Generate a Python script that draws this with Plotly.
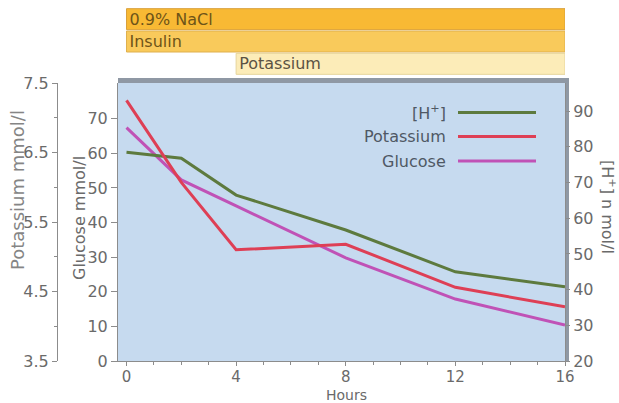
import plotly.graph_objects as go

# ---- data -------------------------------------------------------------
hours = [0, 2, 4, 8, 12, 16]
h_ion = [78.5, 76.8, 66.5, 56.7, 45.0, 40.8]          # [H+] n mol/l
potassium = [7.25, 6.07, 5.10, 5.18, 4.56, 4.28]      # mmol/l
glucose = [67.4, 52.3, 44.8, 29.8, 17.9, 10.4]        # mmol/l

infusions = ["0.9% NaCl", "Insulin", "Potassium"]
infusion_start = [0, 0, 4]
infusion_end = [16, 16, 16]

x_ticks = [0, 4, 8, 12, 16]
glucose_ticks = [0, 10, 20, 30, 40, 50, 60, 70]
potassium_ticks = [3.5, 4.5, 5.5, 6.5, 7.5]
potassium_minor = [4.0, 5.0, 6.0, 7.0]
h_ticks = [20, 30, 40, 50, 60, 70, 80, 90]

# ---- styling ----------------------------------------------------------
W, H = 619, 403
FONT = "DejaVu Sans"
GREEN, RED, MAGENTA = "#5d7a3e", "#de3f55", "#c052b6"
AXIS = "#8c8c8c"
TICKTXT = "#6a6a6a"
PANEL = "#c6daef"


def px(x):
    return x / W


def py(y):
    return 1 - y / H


fig = go.Figure()

# infusion bars across the top
fig.add_trace(go.Bar(
    y=infusions,
    base=infusion_start,
    x=[e - s for s, e in zip(infusion_start, infusion_end)],
    orientation="h",
    xaxis="x", yaxis="y4",
    marker=dict(color=["#f8b934", "#f9ca5b", "#fcecb8"],
                line=dict(color=["#d9a03a", "#dfb04e", "#e6d59c"], width=1)),
    text=infusions,
    textposition="inside",
    insidetextanchor="start",
    textangle=0,
    constraintext="none",
    textfont=dict(family=FONT, size=16, color=["#6e5418", "#6e5418", "#5a5244"]),
    hoverinfo="skip",
    showlegend=False,
))

# measured series
fig.add_trace(go.Scatter(x=hours, y=glucose, mode="lines", yaxis="y",
                         line=dict(color=MAGENTA, width=3), showlegend=False))
fig.add_trace(go.Scatter(x=hours, y=h_ion, mode="lines", yaxis="y2",
                         line=dict(color=GREEN, width=3), showlegend=False))
fig.add_trace(go.Scatter(x=hours, y=potassium, mode="lines", yaxis="y3",
                         line=dict(color=RED, width=3), showlegend=False))

x_dom = [px(118), px(565)]
y_dom = [py(361), py(83)]
tickfont = dict(family=FONT, size=16, color=TICKTXT)

fig.update_layout(
    width=W, height=H,
    margin=dict(l=0, r=0, t=0, b=0, pad=0, autoexpand=False),
    paper_bgcolor="white",
    plot_bgcolor="rgba(0,0,0,0)",
    font=dict(family=FONT),
    bargap=0.06,
    xaxis=dict(domain=x_dom, range=[-0.31, 16.0], anchor="y", automargin=False,
               tickvals=x_ticks, ticks="outside", ticklen=4, tickcolor=AXIS,
               ticklabelstandoff=-2,
               minor=dict(dtick=1, tick0=0, ticks="outside", ticklen=3, tickcolor=AXIS),
               showline=True, linecolor=AXIS, linewidth=1, showgrid=False,
               zeroline=False,
               tickfont=dict(family=FONT, size=15, color=TICKTXT)),
    yaxis=dict(domain=y_dom, range=[0, 80.3], anchor="x", automargin=False,
               tickvals=glucose_ticks, ticks="outside", ticklen=6, tickcolor=AXIS,
               showline=True, linecolor=AXIS, showgrid=False, zeroline=False,
               tickfont=tickfont),
    yaxis2=dict(overlaying="y", side="right", anchor="x", range=[20, 97.9],
                automargin=False,
                tickvals=h_ticks, ticks="outside", ticklen=4, tickcolor=AXIS,
                showline=True, linecolor=AXIS, showgrid=False, zeroline=False,
                tickfont=tickfont),
    yaxis3=dict(overlaying="y", side="left", anchor="free", position=px(57),
                automargin=False,
                range=[3.5, 7.5], tickmode="array", tickvals=potassium_ticks,
                tickformat=".1f", ticks="outside", ticklen=5, tickcolor=AXIS,
                minor=dict(tickmode="array", tickvals=potassium_minor,
                           ticks="outside", ticklen=3, tickcolor=AXIS),
                showline=True, linecolor=AXIS, showgrid=False, zeroline=False,
                tickfont=tickfont),
    yaxis4=dict(domain=[py(75), py(8)], anchor="x", autorange="reversed",
                automargin=False,
                showticklabels=False, showgrid=False, zeroline=False,
                showline=False, ticks=""),
)

# shaded panel with a 3-D frame on top and right
frame = "#8f98a4"
fig.add_shape(type="rect", xref="paper", yref="paper", layer="below",
              x0=px(118), x1=px(569), y0=py(361), y1=py(78),
              fillcolor=frame, line=dict(width=0))
fig.add_shape(type="rect", xref="paper", yref="paper", layer="below",
              x0=px(118), x1=px(565), y0=py(361), y1=py(83),
              fillcolor=PANEL, line=dict(width=0))

# legend (labels right-aligned, sample line to the right)
legend_rows = [("[H<sup>+</sup>]", GREEN, 112.5),
               ("Potassium", RED, 136.5),
               ("Glucose", MAGENTA, 161)]
for label, colour, yy in legend_rows:
    fig.add_annotation(text=label, xref="paper", yref="paper",
                       x=px(448), y=py(yy), xanchor="right", yanchor="middle",
                       showarrow=False,
                       font=dict(family=FONT, size=16, color="#4f5864"))
    fig.add_shape(type="line", xref="paper", yref="paper",
                  x0=px(458), x1=px(536), y0=py(yy), y1=py(yy),
                  line=dict(color=colour, width=3))

# axis titles
titles = [
    ("Potassium mmol/l", 17, 190, -90, 18, "#858585", "middle"),
    ("Glucose mmol/l", 79, 218, -90, 16, "#6a6a6a", "middle"),
    ("[H<sup>+</sup>] n mol/l", 608, 207, 90, 16, "#6a6a6a", "middle"),
    ("Hours", 346, 404, 0, 14, "#6a6a6a", "bottom"),
]
for text, xx, yy, ang, size, colour, yanc in titles:
    fig.add_annotation(text=text, xref="paper", yref="paper",
                       x=px(xx), y=py(yy), xanchor="center", yanchor=yanc,
                       textangle=ang, showarrow=False, borderpad=0,
                       font=dict(family=FONT, size=size, color=colour))

fig.write_html("out.html")
